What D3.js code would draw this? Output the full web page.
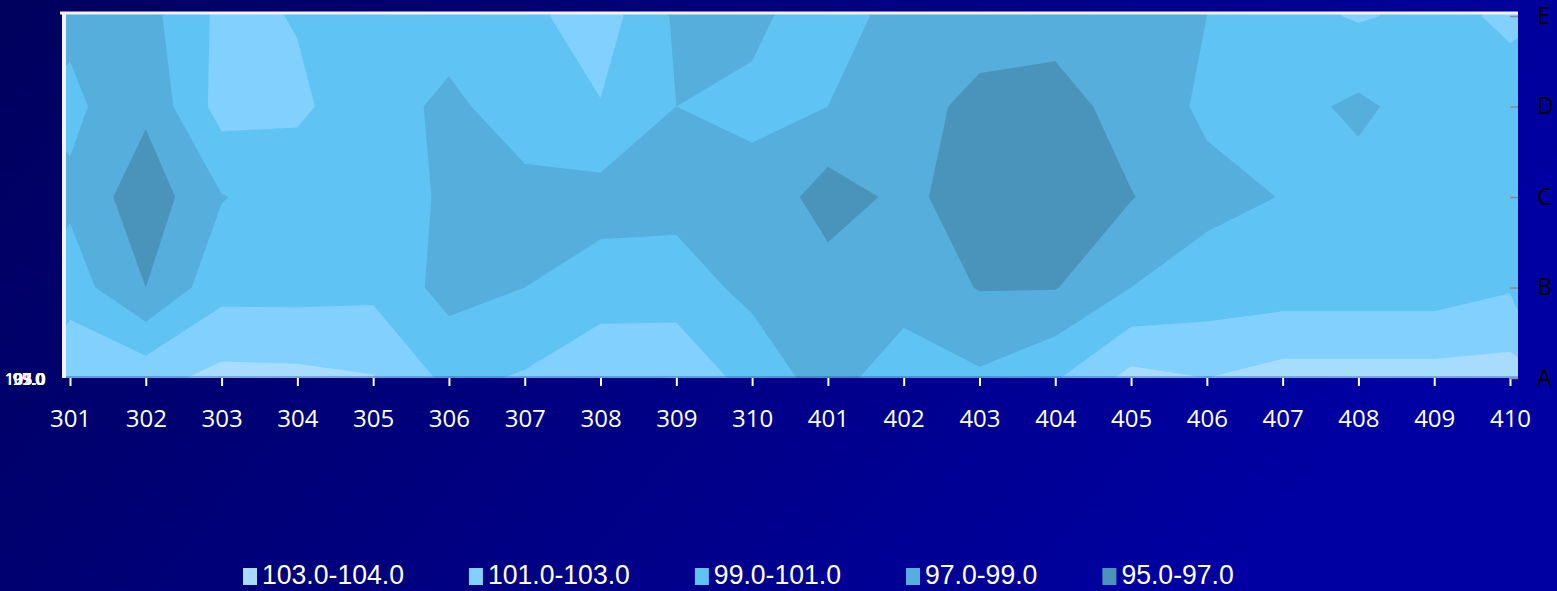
<!DOCTYPE html>
<html>
<head>
<meta charset="utf-8">
<script src="https://cdn.jsdelivr.net/npm/d3@7"></script>
<style>
body { margin: 0; overflow: hidden; background: #000070; }
</style>
</head>
<body>
<div id="chart-area"></div>
<script>
// categories
var columns = ["301", "302", "303", "304", "305", "306", "307", "308", "309", "310",
    "401", "402", "403", "404", "405", "406", "407", "408", "409", "410"];
var rows = ["A", "B", "C", "D", "E"];

// one series per row
var rowE = [98.5, 98.3, 101.5, 100.9, 100.0, 100.0, 100.5, 102.0, 98.7, 98.8,
    99.5, 98.6, 98.2, 98.0, 98.5, 99.0, 100.3, 101.2, 100.5, 101.3];
var rowD = [99.5, 97.4, 101.8, 101.3, 100.0, 98.5, 100.2, 100.9, 99.0, 99.2,
    99.0, 98.0, 96.3, 96.0, 98.0, 99.3, 99.7, 98.6, 100.0, 100.3];
var rowC = [98.6, 95.8, 98.9, 100.0, 100.0, 98.7, 98.3, 98.3, 98.5, 98.7,
    96.0, 97.5, 96.0, 95.5, 96.9, 98.5, 99.05, 99.8, 100.0, 100.0];
var rowB = [100.0, 97.0, 100.3, 100.3, 100.5, 98.3, 99.0, 99.8, 99.7, 98.6,
    98.0, 98.2, 96.9, 96.9, 99.0, 99.8, 100.0, 100.0, 100.0, 100.8];
var rowA = [102.8, 102.3, 103.6, 103.5, 103.1, 100.5, 101.2, 102.8, 103.05, 100.0,
    98.3, 100.0, 99.3, 100.8, 103.6, 103.0, 103.8, 103.8, 103.8, 103.9];

// bands, lowest first
var thresholds = [95, 97, 99, 101, 103];
var bandLabels = ["95.0-97.0", "97.0-99.0", "99.0-101.0", "101.0-103.0", "103.0-104.0"];
var bandColors = ["#4a93bb", "#55aedb", "#5fc3f3", "#82d0fe", "#a8dcff"];

// squeezed series-axis labels on the left
var depthLabels = ["95.0", "97.0", "99.0", "101.0", "103.0", "105.0"];

var width = 1557, height = 591;
var plot = { left: 70, right: 1510, top: 16, bottom: 378 };

var svg = d3.select("#chart-area")
    .append("svg")
    .attr("width", width)
    .attr("height", height);

var defs = svg.append("defs");
var bg = defs.append("linearGradient")
    .attr("id", "bg")
    .attr("x1", "0").attr("y1", "0")
    .attr("x2", "1").attr("y2", "0.3");
bg.append("stop").attr("offset", "0").attr("stop-color", "#00005e");
bg.append("stop").attr("offset", "1").attr("stop-color", "#0000a2");

defs.append("clipPath")
    .attr("id", "plot-clip")
    .append("rect")
    .attr("x", plot.left - 6)
    .attr("y", plot.top - 2)
    .attr("width", plot.right - plot.left + 14)
    .attr("height", plot.bottom - plot.top + 2);

svg.append("rect")
    .attr("width", width)
    .attr("height", height)
    .attr("fill", "url(#bg)");

var x = d3.scalePoint().domain(columns).range([plot.left, plot.right]);
var y = d3.scalePoint().domain(rows).range([plot.bottom, plot.top]);

// contour grid coords: value k sits at k + 0.5, row 0 is the top (E)
var gx = d3.scaleLinear().domain([0.5, columns.length - 0.5]).range([plot.left, plot.right]);
var gy = d3.scaleLinear().domain([0.5, rows.length - 0.5]).range([plot.top, plot.bottom]);

var grid = [].concat(rowE, rowD, rowC, rowB, rowA);

var contours = d3.contours()
    .size([columns.length, rows.length])
    .thresholds(thresholds)(grid);

var path = d3.geoPath(d3.geoTransform({
    point: function (px, py) { this.stream.point(gx(px), gy(py)); }
}));

svg.append("g")
    .attr("clip-path", "url(#plot-clip)")
    .selectAll("path")
    .data(contours)
    .enter().append("path")
    .attr("d", path)
    .attr("fill", function (d) { return bandColors[thresholds.indexOf(d.value)]; });

// faint floor edge along the bottom
svg.append("line")
    .attr("x1", plot.left - 6).attr("x2", plot.right + 8)
    .attr("y1", plot.bottom - 1).attr("y2", plot.bottom - 1)
    .attr("stroke", "#1f3fb0")
    .attr("stroke-opacity", 0.35)
    .attr("stroke-width", 2);

// white frame on top and left
svg.append("line")
    .attr("x1", plot.left - 10).attr("x2", plot.right + 8)
    .attr("y1", plot.top - 3).attr("y2", plot.top - 3)
    .attr("stroke", "#f2f2f2")
    .attr("stroke-width", 3);
svg.append("line")
    .attr("x1", plot.left - 6).attr("x2", plot.left - 6)
    .attr("y1", plot.top - 4).attr("y2", plot.bottom)
    .attr("stroke", "#f2f2f2")
    .attr("stroke-width", 4);

// bottom axis
var xAxis = svg.append("g")
    .attr("transform", "translate(0," + plot.bottom + ")")
    .call(d3.axisBottom(x).tickSize(8).tickPadding(24));
xAxis.select(".domain").remove();
xAxis.selectAll("line").attr("stroke", "#ffffff").attr("stroke-width", 2);
xAxis.selectAll("text")
    .attr("fill", "#ffffff")
    .style("font-family", "'Open Sans', 'Noto Sans', sans-serif")
    .style("font-size", "24px");

// right axis
var yAxis = svg.append("g")
    .attr("transform", "translate(" + plot.right + ",0)")
    .call(d3.axisRight(y).tickSize(8).tickPadding(19));
yAxis.select(".domain").remove();
yAxis.selectAll("line").attr("stroke", "#8a8a8a").attr("stroke-width", 1.5);
yAxis.selectAll("text")
    .attr("fill", "#000000")
    .style("font-family", "'Open Sans', 'Noto Sans', sans-serif")
    .style("font-size", "23px");

// series axis labels, all piled up at the corner
var depth = d3.scalePoint().domain(depthLabels).range([44, 46]);
svg.append("g")
    .selectAll("text")
    .data(depthLabels)
    .enter().append("text")
    .attr("x", function (d) { return depth(d); })
    .attr("y", plot.bottom + 7)
    .attr("text-anchor", "end")
    .attr("fill", "#ffffff")
    .style("font-family", "'Open Sans', sans-serif")
    .style("font-size", "16px")
    .text(function (d) { return d; });

// legend, highest band first
var legendItems = bandLabels.map(function (label, i) {
    return { label: label, color: bandColors[i] };
}).reverse();

var squeeze = 0.95;
var legend = svg.append("g").attr("transform", "translate(0,576)");
var lx = 243;
legendItems.forEach(function (item) {
    legend.append("rect")
        .attr("x", lx)
        .attr("y", -8)
        .attr("width", 14)
        .attr("height", 17)
        .attr("fill", item.color);
    var t = legend.append("text")
        .attr("transform", "translate(" + (lx + 19) + ",8) scale(" + squeeze + ",1)")
        .attr("fill", "#ffffff")
        .style("font-family", "'Liberation Sans', Arial, sans-serif")
        .style("font-size", "28px")
        .text(item.label);
    lx += 19 + t.node().getComputedTextLength() * squeeze + 65;
});
</script>
</body>
</html>
